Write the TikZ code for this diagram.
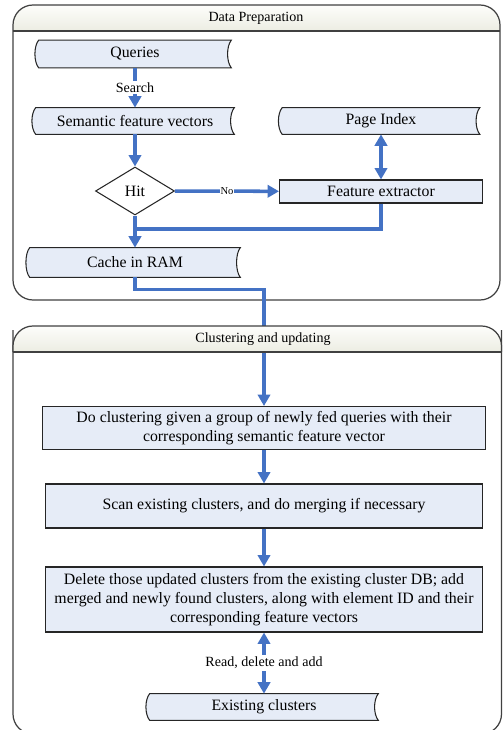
\documentclass[tikz,border=0pt]{standalone}
\usepackage{fontspec}
\setmainfont{Liberation Serif}
\usepackage{tikz}
\usetikzlibrary{shapes,arrows.meta,calc,backgrounds}

\definecolor{flowblue}{RGB}{68,114,196}
\definecolor{boxfill}{RGB}{230,236,247}
\definecolor{framegray}{RGB}{64,64,64}
\definecolor{headtop}{RGB}{253,253,251}
\definecolor{headbot}{RGB}{236,237,226}

\tikzset{
  flow/.style={draw=flowblue, line width=2pt},
  flowarrow/.style={flow, -{Triangle[width=7pt,length=6.5pt]}},
  flowboth/.style={flow, {Triangle[width=7pt,length=6.5pt]}-{Triangle[width=7pt,length=6.5pt]}},
  stepbox/.style={draw=black!85, fill=boxfill, line width=0.6pt, align=center, font=\fontsize{9}{11}\selectfont, inner sep=0pt},
  databox/.style={align=center, font=\fontsize{9}{11}\selectfont, inner sep=0pt, minimum height=0.54cm},
  decision/.style={diamond, draw=black!85, fill=white, line width=0.6pt, font=\fontsize{9}{11}\selectfont, minimum width=1.58cm, minimum height=0.96cm, inner sep=0pt},
  lbl/.style={fill=white, inner sep=1pt, font=\fontsize{8}{9}\selectfont},
  frame/.style={draw=framegray, line width=0.7pt},
}

\newcommand{\datashape}[1]{%
  \draw[draw=black!85, fill=boxfill, line width=0.6pt] (#1.north west)
    .. controls ($(#1.north west)+(-5,6)$) and ($(#1.south west)+(-5,-6)$) .. (#1.south west)
    -- (#1.south east)
    .. controls ($(#1.south east)+(-5,-6)$) and ($(#1.north east)+(-5,6)$) .. (#1.north east)
    -- cycle;}

\begin{document}
\begin{tikzpicture}[x=0.02cm, y=-0.02cm]
    \useasboundingbox (0,0) rectangle (503,730);
    \clip (0,0) rectangle (503,730);

    \node[font=\fontsize{8}{9}\selectfont] (prep) at (256,18) {Data Preparation};

    \node[databox, minimum width=3.84cm] (queries) at (135,54) {Queries};
    \node[databox, minimum width=3.96cm, minimum height=0.52cm] (sfv) at (135,121) {Semantic feature vectors};
    \node[databox, minimum width=3.94cm, minimum height=0.52cm] (pindex) at (381,121) {Page Index};
    \node[decision] (hit) at (135,191) {Hit};
    \node[stepbox, minimum width=4.06cm, minimum height=0.46cm] (fext) at (381,191.5) {Feature extractor};
    \node[databox, minimum width=4.2cm, minimum height=0.58cm] (cache) at (135,262.5) {Cache in RAM};

    \node[stepbox, minimum width=8.88cm, minimum height=0.86cm] (cluster) at (264,428) {Do clustering given a group of newly fed queries with their\\corresponding semantic feature vector};
    \node[stepbox, minimum width=8.76cm, minimum height=0.88cm] (scan) at (264,506) {Scan existing clusters, and do merging if necessary};
    \node[stepbox, minimum width=8.76cm, minimum height=1.3cm] (update) at (264,599.5) {Delete those updated clusters from the existing cluster DB; add\\merged and newly found clusters, along with element ID and their\\corresponding feature vectors};
    \node[databox, minimum width=4.56cm, minimum height=0.52cm] (existing) at (264,707) {Existing clusters};

    \coordinate (merge) at (135,229);

    \draw[flowarrow] (queries) -- node[lbl] (search) {Search} (sfv);
    \draw[flowarrow] (sfv) -- (hit);
    \draw[flowarrow] (hit) -- node[lbl, font=\fontsize{6}{7}\selectfont, inner sep=0.5pt] (no) {No} (fext);
    \draw[flowboth] (fext) -- (pindex);
    \draw[flow] (fext.south) |- (merge);
    \draw[flowarrow] (hit.south) -- (cache.north);
    \draw[flowarrow] (cache.south) -- ++(0,12) -| (cluster.north);
    \draw[flowarrow] (cluster) -- (scan);
    \draw[flowarrow] (scan) -- (update);
    \draw[flowboth] (existing) -- node[lbl] (rda) {Read, delete and add} (update);

    \begin{scope}
        \clip[rounded corners=0.4cm] (13,326) rectangle (501.5,734);
        \shade[top color=headtop, bottom color=headbot] (13,326) rectangle (501.5,352);
    \end{scope}
    \draw[frame, rounded corners=0.4cm] (13,352) -- (13,326) -- (501.5,326) -- (501.5,352);
    \draw[frame] (13,352) -- (501.5,352);
    \node[font=\fontsize{8}{9}\selectfont] (upd) at (263,339) {Clustering and updating};

    \begin{scope}[on background layer]
        \begin{scope}
            \clip[rounded corners=0.4cm] (13,5) rectangle (500,300);
            \shade[top color=headtop, bottom color=headbot] (13,5) rectangle (500,31);
        \end{scope}
        \draw[frame, rounded corners=0.4cm] (13,5) rectangle (500,300);
        \draw[frame] (13,31) -- (500,31);
        \draw[frame, rounded corners=0.4cm] (13,330) -- (13,734) -- (501.5,734) -- (501.5,330);
        \datashape{queries}
        \datashape{sfv}
        \datashape{pindex}
        \datashape{cache}
        \datashape{existing}
    \end{scope}
\end{tikzpicture}
\end{document}
